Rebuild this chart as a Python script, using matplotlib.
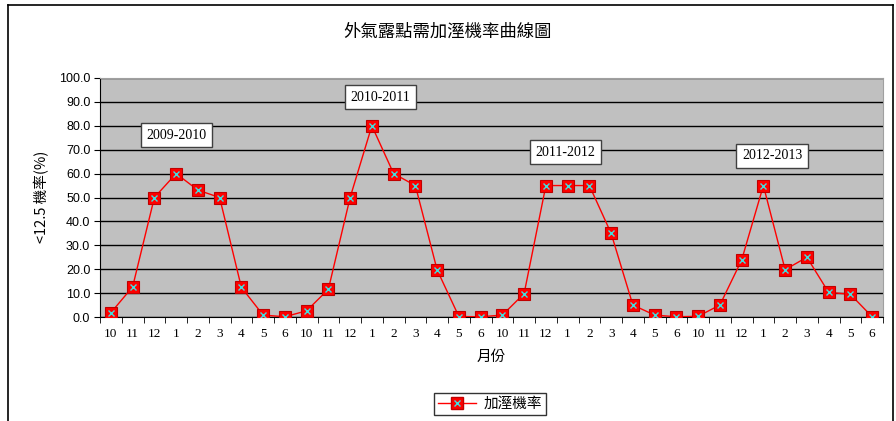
import matplotlib
matplotlib.use("Agg")
import matplotlib.pyplot as plt
from matplotlib.lines import Line2D
import numpy as np

plt.rcParams['font.family'] = ['Noto Sans CJK TC', 'DejaVu Sans']

months = ["10", "11", "12", "1", "2", "3", "4", "5", "6"]
seasons = ["2009-2010", "2010-2011", "2011-2012", "2012-2013"]
v2009 = [1.8, 12.6, 50.0, 60.0, 53.1, 50.0, 12.4, 0.8, 0.1]
v2010 = [2.6, 11.6, 50.0, 80.0, 60.0, 55.0, 19.7, 0.2, 0.1]
v2011 = [0.8, 9.8, 55.0, 55.0, 55.0, 35.0, 5.0, 0.8, 0.1]
v2012 = [0.3, 5.0, 23.8, 55.0, 19.8, 25.0, 10.3, 9.5, 0.1]
label_pos = [(3.0, 76.0), (12.4, 92.0), (20.9, 69.0), (30.4, 67.5)]

tick_labels = months * 4
values = v2009 + v2010 + v2011 + v2012
x = np.arange(len(values))

fig = plt.figure(figsize=(8.96, 4.21), dpi=100)
ax = fig.add_axes([100/896, 1-317/421, 783/896, 239/421])
ax.set_facecolor('#C0C0C0')

ax.plot(x, values, color='#FF0000', lw=1.0, marker='s', ms=9,
        mfc='#FF0000', mec='#C00000', mew=0.8, zorder=3)
ax.plot(x, values, ls='none', marker='x', ms=5, mec='#40E0E0', mew=1.0, zorder=4)

ax.set_xlim(-0.5, len(values) - 0.5)
ax.set_ylim(0, 100)
ax.set_yticks(np.arange(0, 101, 10))
ax.set_yticklabels([f"{v:.1f}" for v in np.arange(0, 101, 10)],
                   family=['Liberation Sans Narrow', 'Liberation Sans'], fontsize=9)
ax.set_xticks(x)
ax.set_xticklabels(tick_labels, family=['Liberation Serif'], fontsize=9.5)
ax.tick_params(axis='x', which='major', length=0, pad=8)
ax.set_xticks(np.arange(-0.5, len(values), 1), minor=True)
ax.tick_params(axis='x', which='minor', length=4, direction='out', color='black')
ax.tick_params(axis='y', length=4, direction='out', pad=3)
ax.yaxis.grid(True, color='black', lw=1.0)
ax.set_axisbelow(True)
for s in ['top', 'right']:
    ax.spines[s].set_color('#A0A0A0')
ax.spines['left'].set_color('black')
ax.spines['bottom'].set_color('black')

for name, (px, py) in zip(seasons, label_pos):
    ax.text(px, py, name, ha='center', va='center', fontsize=10,
            family=['Liberation Serif'], zorder=5,
            bbox=dict(boxstyle='square,pad=0.4', fc='white', ec='#404040', lw=1.0))

fig.text(0.5, 1-32/421, "外氣露點需加溼機率曲線圖", ha='center', va='center', fontsize=12.5)
fig.text(42/896, 1-197/421, "<12.5 機率(%)", ha='center', va='center', rotation=90, fontsize=10.5)
fig.text(491/896, 1-357/421, "月份", ha='center', va='center', fontsize=10.5)

h1 = Line2D([], [], color='#FF0000', lw=1.0, marker='s', ms=9, mfc='#FF0000', mec='#C00000')
h2 = Line2D([], [], ls='none', marker='x', ms=5, mec='#40E0E0', mew=1.0)
leg = fig.legend([(h1, h2)], ["加溼機率"], loc='center', bbox_to_anchor=(490/896, 1-404/421),
                 frameon=True, fancybox=False, edgecolor='black', fontsize=10.5,
                 handlelength=2.6, borderpad=0.3, handletextpad=0.5)
leg.get_frame().set_linewidth(1.0)

# outer chart frame
fig.add_artist(Line2D([8/896, 893/896], [1-5/421, 1-5/421], color='black', lw=1.2, transform=fig.transFigure))
fig.add_artist(Line2D([8/896, 8/896], [1-5/421, 0], color='black', lw=1.2, transform=fig.transFigure))
fig.add_artist(Line2D([893/896, 893/896], [1-5/421, 0], color='black', lw=1.2, transform=fig.transFigure))

fig.savefig("out.png", dpi=100)
